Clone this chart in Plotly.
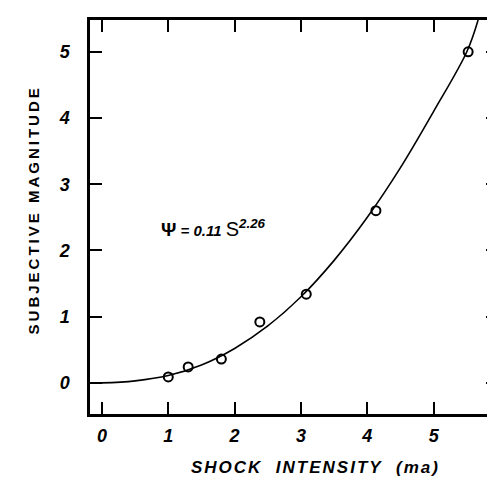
import plotly.graph_objects as go

# measured data points
shock = [1.0, 1.3, 1.8, 2.38, 3.08, 4.13, 5.52]
magnitude = [0.09, 0.24, 0.36, 0.92, 1.34, 2.6, 5.0]

# fitted curve
curve_x = [-0.18, 0.0, 0.5, 1.0, 1.5, 2.0, 2.5, 3.0, 3.5, 4.0, 4.5, 5.0, 5.5, 5.67]
curve_y = [0.0, 0.0, 0.03, 0.11, 0.27, 0.52, 0.86, 1.3, 1.85, 2.5, 3.25, 4.1, 5.0, 5.48]

x_ticks = [0, 1, 2, 3, 4, 5]
y_ticks = [0, 1, 2, 3, 4, 5]
x_range = [-0.18, 5.97]
y_range = [-0.47, 5.48]

FONT = "Liberation Sans"

fig = go.Figure()
fig.add_trace(go.Scatter(x=curve_x, y=curve_y, mode="lines",
                         line=dict(color="black", width=1.6, shape="spline"),
                         showlegend=False, hoverinfo="skip"))
fig.add_trace(go.Scatter(x=shock, y=magnitude, mode="markers",
                         marker=dict(symbol="circle-open", size=9, color="black",
                                     line=dict(width=2, color="black")),
                         showlegend=False))
# invisible trace to activate the mirrored top/right tick axes
fig.add_trace(go.Scatter(x=shock, y=magnitude, xaxis="x2", yaxis="y2", mode="markers",
                         marker=dict(opacity=0), showlegend=False, hoverinfo="skip"))

tick_style = dict(ticks="inside", ticklen=12, tickwidth=2, tickcolor="black",
                  showgrid=False, zeroline=False)
axis_common = dict(showline=True, linecolor="black", linewidth=2.5, mirror=True,
                   tickfont=dict(family=FONT, size=18, color="black"), **tick_style)

fig.update_layout(
    xaxis=dict(range=x_range, tickvals=x_ticks, ticklabelstandoff=4,
               ticktext=[f"<b><i>{v}</i></b>" for v in x_ticks], **axis_common),
    yaxis=dict(range=y_range, tickvals=y_ticks, ticklabelstandoff=14,
               ticktext=[f"<b><i>{v}</i></b>" for v in y_ticks], **axis_common),
    xaxis2=dict(range=x_range, tickvals=x_ticks, overlaying="x", side="top",
                showticklabels=False, showline=False, **tick_style),
    yaxis2=dict(range=y_range, tickvals=y_ticks, overlaying="y", side="right",
                showticklabels=False, showline=False, **tick_style),
)

sp = "\u00a0"
fig.add_annotation(xref="paper", yref="paper", x=(309 - 82) / 411, y=(406 - 459) / 394,
                   text="<span style='letter-spacing:2px'><b><i>SHOCK" + sp * 2 + "INTENSITY"
                        + sp * 2 + "(ma)</i></b></span>",
                   showarrow=False, xanchor="center", yanchor="middle",
                   font=dict(family=FONT, size=17, color="black"))
fig.add_annotation(xref="paper", yref="paper", x=(25 - 82) / 411, y=(406 - 202) / 394,
                   text="<span style='letter-spacing:3px'><b>SUBJECTIVE" + sp + "MAGNITUDE</b></span>",
                   textangle=-90, showarrow=False, xanchor="center", yanchor="middle",
                   font=dict(family=FONT, size=15, color="black"))
fig.add_annotation(x=0.86, y=2.12, xref="x", yref="y", xanchor="left", yanchor="bottom",
                   text="<b>Ψ</b><span style='font-size:15px'><b><i> = 0.11 </i></b></span>"
                        "<span style='font-size:20px'>S</span>"
                        "<span style='font-size:19px'><sup><b><i>2.26</i></b></sup></span>",
                   showarrow=False, font=dict(family=FONT, size=19, color="black"))

fig.update_layout(width=495, height=478, margin=dict(l=82, r=2, t=12, b=72),
                  plot_bgcolor="white", paper_bgcolor="white")

fig.write_html("out.html")
